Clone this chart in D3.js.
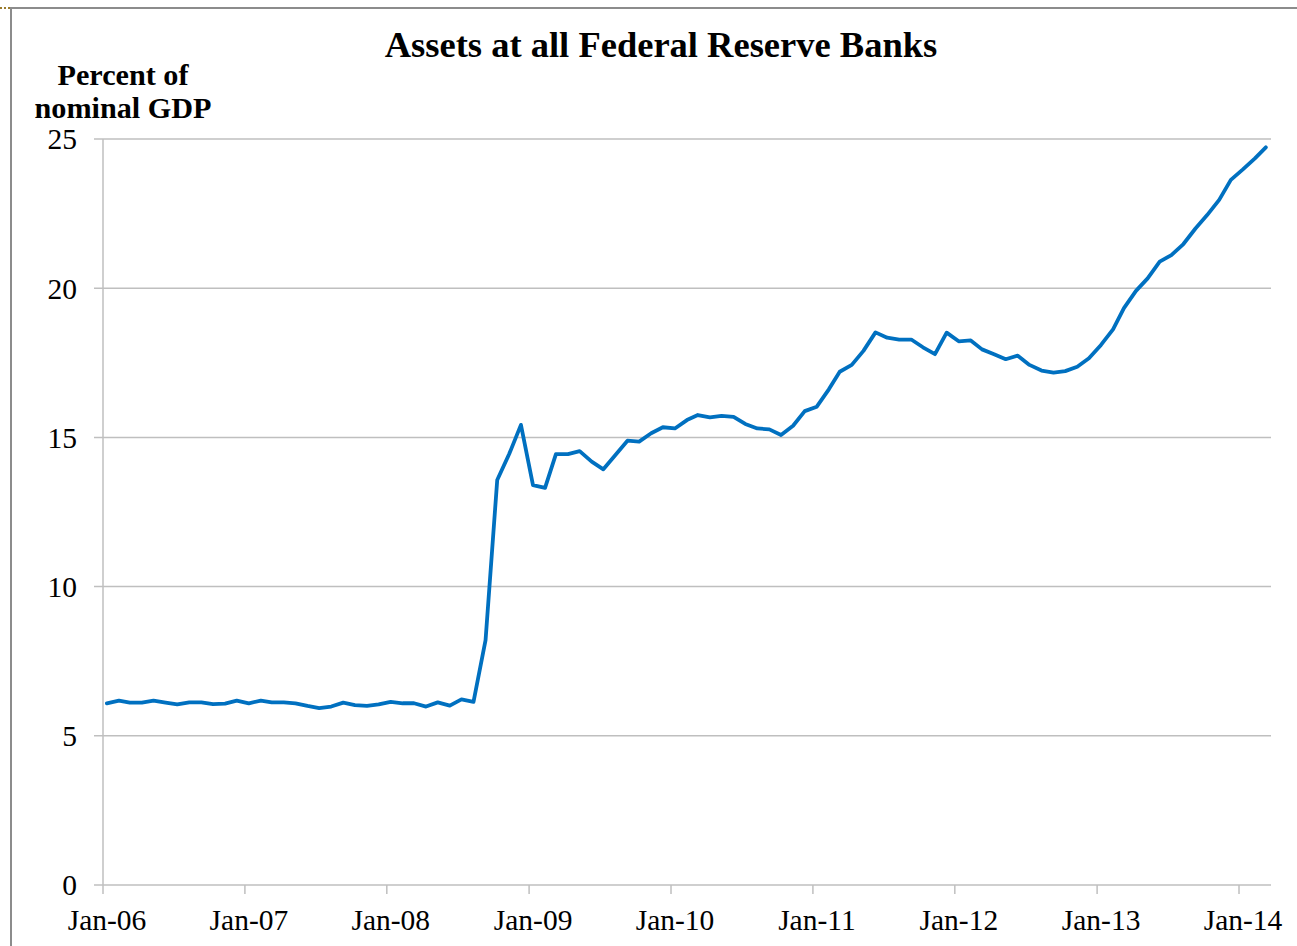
<!DOCTYPE html>
<html>
<head>
<meta charset="utf-8">
<script src="https://cdn.jsdelivr.net/npm/d3@7"></script>
<style>
  body { margin: 0; background: #fff; }
  svg { display: block; }
  text { font-family: "Liberation Serif", "Times New Roman", serif; fill: #000; }
</style>
</head>
<body>
<svg id="chart" width="1297" height="946"></svg>
<script>
// monthly values, percent of nominal GDP, Jan-06 .. Mar-14
const startMonth = '2006-01';
const y2006 = [6.09, 6.18, 6.11, 6.11, 6.18, 6.11, 6.05, 6.12, 6.12, 6.06, 6.08, 6.18];
const y2007 = [6.09, 6.18, 6.12, 6.12, 6.09, 6.00, 5.93, 5.98, 6.11, 6.03, 6.00, 6.05];
const y2008 = [6.14, 6.09, 6.09, 5.98, 6.12, 6.01, 6.22, 6.14, 8.21, 13.57, 14.45, 15.42];
const y2009 = [13.40, 13.31, 14.44, 14.44, 14.54, 14.19, 13.93, 14.41, 14.89, 14.86, 15.14, 15.34];
const y2010 = [15.30, 15.58, 15.75, 15.67, 15.72, 15.69, 15.45, 15.30, 15.27, 15.08, 15.39, 15.88];
const y2011 = [16.03, 16.61, 17.20, 17.43, 17.90, 18.52, 18.34, 18.28, 18.28, 18.02, 17.79, 18.51];
const y2012 = [18.22, 18.25, 17.95, 17.79, 17.62, 17.74, 17.43, 17.24, 17.17, 17.22, 17.37, 17.65];
const y2013 = [18.10, 18.62, 19.33, 19.91, 20.33, 20.89, 21.11, 21.48, 22.00, 22.45, 22.96, 23.63];
const y2014 = [23.98, 24.35, 24.72];

const yTicks = [0, 5, 10, 15, 20, 25];
const xTickLabels = ['Jan-06', 'Jan-07', 'Jan-08', 'Jan-09', 'Jan-10', 'Jan-11', 'Jan-12', 'Jan-13', 'Jan-14'];

const title = 'Assets at all Federal Reserve Banks';
const yLabel = ['Percent of', 'nominal GDP'];

const values = [].concat(y2006, y2007, y2008, y2009, y2010, y2011, y2012, y2013, y2014);
const parseMonth = d3.timeParse('%Y-%m');
const t0 = parseMonth(startMonth);
// observations sit a little into each month
const data = values.map((v, i) => ({ date: d3.timeDay.offset(d3.timeMonth.offset(t0, i), 10), value: v }));

const svg = d3.select('#chart');
const margin = { left: 103, right: 1274, top: 139, bottom: 885 };

const x = d3.scaleTime()
  .domain([t0, d3.timeMonth.offset(t0, 99)])
  .range([margin.left, margin.right]);
const y = d3.scaleLinear()
  .domain([0, 25])
  .range([margin.bottom, margin.top]);

// outer frame
svg.append('path')
  .attr('d', 'M11,946 L11,8 L1297,8')
  .attr('fill', 'none')
  .attr('stroke', '#8c8c8c')
  .attr('stroke-width', 2);
svg.append('line')
  .attr('x1', 0).attr('x2', 10).attr('y1', 8).attr('y2', 8)
  .attr('stroke', '#9a7b2c').attr('stroke-width', 2).attr('stroke-dasharray', '2,2');

// gridlines
svg.append('g')
  .selectAll('line')
  .data(yTicks)
  .join('line')
  .attr('x1', margin.left - 9)
  .attr('x2', margin.right - 3)
  .attr('y1', d => y(d))
  .attr('y2', d => y(d))
  .attr('stroke', '#bfbfbf')
  .attr('stroke-width', 1.5);

// y axis line
svg.append('line')
  .attr('x1', margin.left).attr('x2', margin.left)
  .attr('y1', y(25)).attr('y2', y(0))
  .attr('stroke', '#bfbfbf').attr('stroke-width', 1.5);

// y tick labels
svg.append('g')
  .selectAll('text')
  .data(yTicks)
  .join('text')
  .attr('x', 77)
  .attr('y', d => y(d))
  .attr('dy', '0.35em')
  .attr('text-anchor', 'end')
  .attr('font-size', 29.5)
  .text(d => d);

// x ticks and labels
const xTickDates = xTickLabels.map((d, i) => d3.timeYear.offset(t0, i));
const xg = svg.append('g');
xg.selectAll('line')
  .data(xTickDates)
  .join('line')
  .attr('x1', d => x(d)).attr('x2', d => x(d))
  .attr('y1', y(0)).attr('y2', y(0) + 9)
  .attr('stroke', '#bfbfbf').attr('stroke-width', 1.5);
xg.selectAll('text')
  .data(xTickLabels)
  .join('text')
  .attr('x', (d, i) => x(xTickDates[i]) + 4)
  .attr('y', 930)
  .attr('text-anchor', 'middle')
  .attr('font-size', 29.5)
  .text(d => d);

// series
const line = d3.line()
  .x(d => x(d.date))
  .y(d => y(d.value));
svg.append('path')
  .datum(data)
  .attr('d', line)
  .attr('fill', 'none')
  .attr('stroke', '#0070c0')
  .attr('stroke-width', 3.8)
  .attr('stroke-linejoin', 'round')
  .attr('stroke-linecap', 'round');

// titles
svg.append('text')
  .attr('x', 661)
  .attr('y', 57)
  .attr('text-anchor', 'middle')
  .attr('font-size', 36.5)
  .attr('font-weight', 'bold')
  .text(title);

svg.append('g')
  .selectAll('text')
  .data(yLabel)
  .join('text')
  .attr('x', 123)
  .attr('y', (d, i) => 85 + i * 33)
  .attr('text-anchor', 'middle')
  .attr('font-size', 30.2)
  .attr('font-weight', 'bold')
  .text(d => d);
</script>
</body>
</html>
